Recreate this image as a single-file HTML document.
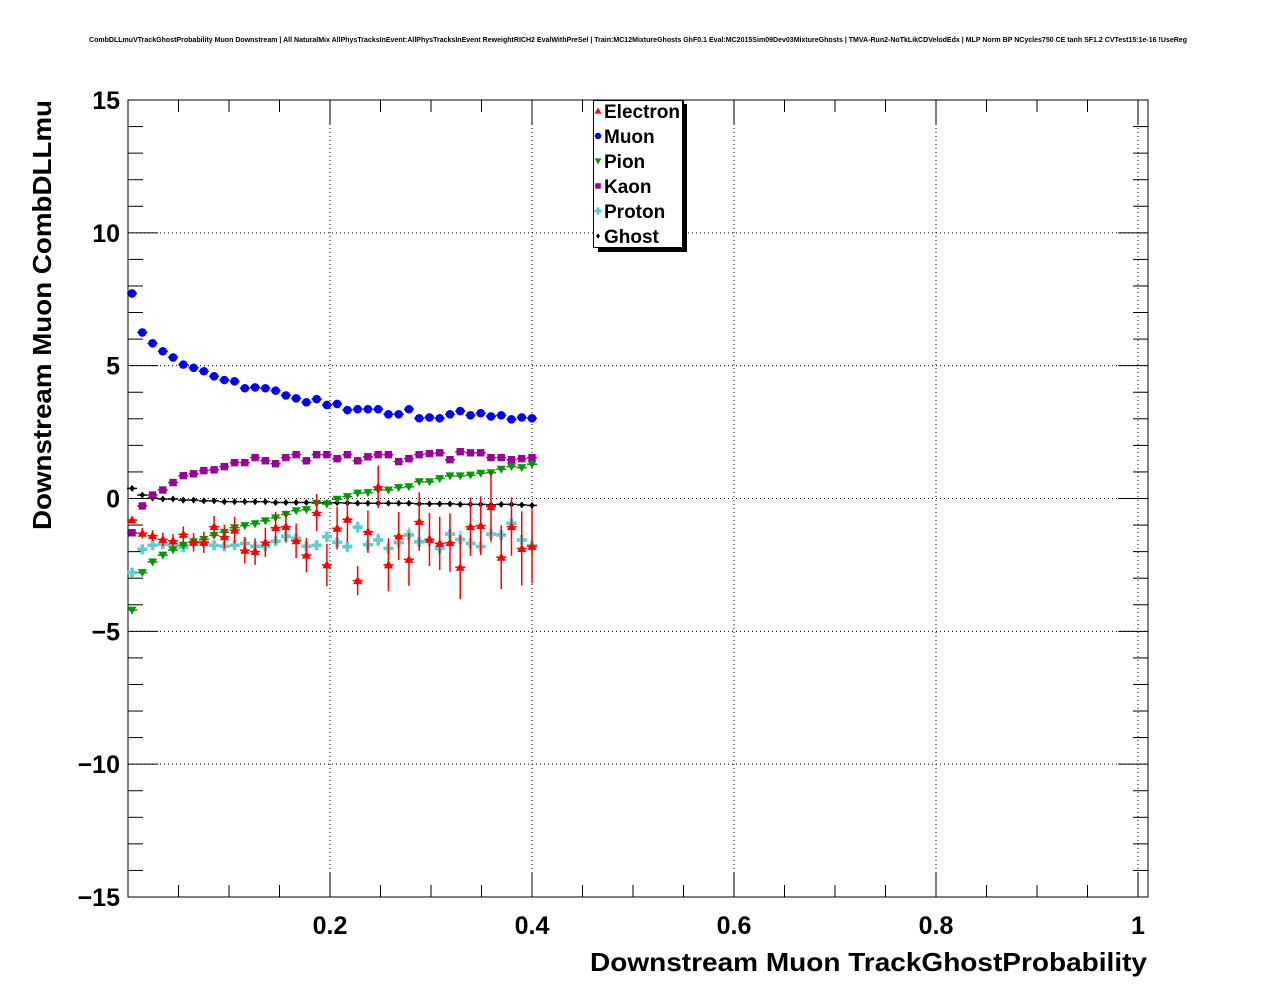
<!DOCTYPE html>
<html><head><meta charset="utf-8"><style>
html,body{margin:0;padding:0;background:#fff}
svg{display:block;font-family:"Liberation Sans",Arial,sans-serif}
</style></head><body>
<svg id="chart" width="1276" height="996" viewBox="0 0 1276 996" xmlns="http://www.w3.org/2000/svg">
<rect width="1276" height="996" fill="#fff"/>
<text x="89" y="42" font-size="7" font-weight="bold" textLength="1098" lengthAdjust="spacingAndGlyphs">CombDLLmuVTrackGhostProbability Muon Downstream | All NaturalMix AllPhysTracksInEvent:AllPhysTracksInEvent ReweightRICH2 EvalWithPreSel | Train:MC12MixtureGhosts GhF0.1 Eval:MC2015Sim09Dev03MixtureGhosts | TMVA-Run2-NoTkLikCDVelodEdx | MLP Norm BP NCycles750 CE tanh SF1.2 CVTest15:1e-16 !UseReg</text>
<g id="grid"></g>
<g id="axes"></g>
<g id="series"></g>
<text x="590" y="971" font-size="26" font-weight="bold" textLength="557" lengthAdjust="spacingAndGlyphs">Downstream Muon TrackGhostProbability</text>
<text transform="translate(51,530) rotate(-90)" x="0" y="0" font-size="26" font-weight="bold" textLength="430" lengthAdjust="spacingAndGlyphs">Downstream Muon CombDLLmu</text>
<g id="legend"></g>
</svg>
<script>
const xTickLabels=["0.2","0.4","0.6","0.8","1"];
const xTickValues=[0.2,0.4,0.6,0.8,1.0];
const yTickValues=[-15,-10,-5,0,5,10,15];
const yTickLabels=["\u221215","\u221210","\u22125","0","5","10","15"];
const binCount=40;
const muon=[7.72,6.25,5.84,5.54,5.31,5.04,4.92,4.79,4.60,4.46,4.41,4.15,4.18,4.15,4.06,3.88,3.77,3.62,3.74,3.52,3.56,3.33,3.36,3.36,3.36,3.17,3.17,3.36,3.02,3.05,3.02,3.17,3.29,3.13,3.21,3.09,3.13,2.98,3.05,3.02];
const kaon=[-1.29,-0.28,0.13,0.32,0.60,0.86,0.93,1.05,1.08,1.20,1.35,1.35,1.54,1.42,1.31,1.54,1.65,1.42,1.65,1.65,1.50,1.65,1.42,1.57,1.65,1.65,1.39,1.50,1.65,1.69,1.72,1.46,1.76,1.72,1.72,1.54,1.54,1.46,1.50,1.54];
const pion=[-4.20,-2.79,-2.39,-2.13,-1.94,-1.76,-1.63,-1.54,-1.39,-1.27,-1.10,-1.02,-0.95,-0.84,-0.73,-0.60,-0.46,-0.42,-0.18,-0.21,-0.03,0.07,0.20,0.22,0.32,0.32,0.41,0.44,0.63,0.63,0.75,0.85,0.85,0.88,0.95,0.97,1.10,1.20,1.16,1.29];
const ghost=[0.38,0.13,0.02,-0.02,-0.02,-0.06,-0.06,-0.09,-0.09,-0.12,-0.12,-0.12,-0.12,-0.12,-0.15,-0.15,-0.15,-0.15,-0.15,-0.16,-0.16,-0.17,-0.18,-0.18,-0.18,-0.18,-0.18,-0.18,-0.2,-0.2,-0.2,-0.2,-0.22,-0.22,-0.22,-0.24,-0.22,-0.22,-0.24,-0.26];
const proton=[-2.79,-1.91,-1.76,-1.72,-1.76,-1.84,-1.65,-1.65,-1.76,-1.80,-1.76,-1.69,-1.80,-1.80,-1.61,-1.42,-1.50,-1.80,-1.76,-1.44,-1.65,-1.81,-1.08,-1.74,-1.56,-1.88,-1.66,-1.37,-1.63,-1.59,-1.88,-1.34,-1.54,-1.69,-1.81,-1.34,-1.37,-0.93,-1.56,-1.78];
const protonErr=[0.05,0.1,0.1,0.1,0.1,0.1,0.1,0.12,0.12,0.12,0.12,0.12,0.14,0.14,0.15,0.15,0.17,0.17,0.18,0.2,0.2,0.22,0.22,0.25,0.25,0.25,0.28,0.28,0.3,0.3,0.3,0.32,0.32,0.35,0.35,0.35,0.38,0.38,0.4,0.4];
const electron=[-0.81,-1.31,-1.40,-1.54,-1.59,-1.35,-1.65,-1.65,-1.06,-1.44,-1.19,-1.95,-2.00,-1.65,-1.10,-1.06,-1.59,-2.13,-0.53,-2.50,-1.12,-0.78,-3.09,-1.25,0.44,-2.50,-1.41,-2.29,-0.87,-1.54,-1.69,-1.66,-2.59,-1.06,-1.02,-0.31,-2.21,-1.06,-1.88,-1.80];
const electronErr=[0.1,0.2,0.2,0.25,0.25,0.3,0.35,0.4,0.4,0.45,0.5,0.5,0.5,0.55,0.6,0.6,0.65,0.65,0.7,0.8,0.8,0.85,0.55,0.8,0.8,1.0,0.9,1.0,1.1,1.0,1.0,1.1,1.2,1.1,1.1,1.3,1.2,1.1,1.4,1.4];

const NS="http://www.w3.org/2000/svg";
const X0=128,X1=1148,Y0=100,Y1=897;
const xMin=0,xMax=(X1-X0)/1010;
const yMin=-15,yMax=15;
function xs(v){return X0+(v-xMin)/(xMax-xMin)*(X1-X0);}
function ys(v){return Y1-(v-yMin)/(yMax-yMin)*(Y1-Y0);}
function mk(tag,attrs,parent){const e=document.createElementNS(NS,tag);for(const k in attrs)e.setAttribute(k,attrs[k]);parent.appendChild(e);return e;}
function binX(i){return 0.004+i*(0.396/(binCount-1));}

const grid=document.getElementById('grid'),axes=document.getElementById('axes'),series=document.getElementById('series'),legend=document.getElementById('legend');
xTickValues.forEach(v=>{const l=mk('line',{x1:xs(v),x2:xs(v),y1:Y0,y2:Y1,stroke:'#000','stroke-width':1,'stroke-dasharray':'1,3'},grid);

});
yTickValues.slice(1,-1).forEach(v=>{const l=mk('line',{x1:X0,x2:X1,y1:ys(v),y2:ys(v),stroke:'#000','stroke-width':1,'stroke-dasharray':'1,3'},grid);

});
const fr=mk('rect',{x:X0,y:Y0,width:X1-X0,height:Y1-Y0,fill:'none',stroke:'#000','stroke-width':1},axes);


for(let v=yMin;v<=yMax;v++){const major=(v%5===0);const len=major?30:15;const y=ys(v);
mk('line',{x1:X0,x2:X0+len,y1:y,y2:y,stroke:'#000'},axes);
mk('line',{x1:X1,x2:X1-len,y1:y,y2:y,stroke:'#000'},axes);}
yTickValues.forEach((v,i)=>{const t=mk('text',{x:X0-8,y:ys(v)+9,'font-size':25,'font-weight':'bold','text-anchor':'end'},axes);t.textContent=yTickLabels[i];

});
for(let k=0;k<=20;k++){const v=k*0.05;const major=(k%4===0);const len=major?24:12;const x=xs(v);
mk('line',{x1:x,x2:x,y1:Y1,y2:Y1-len,stroke:'#000'},axes);
mk('line',{x1:x,x2:x,y1:Y0,y2:Y0+len,stroke:'#000'},axes);}
xTickValues.forEach((v,i)=>{const t=mk('text',{x:xs(v),y:934,'font-size':25,'font-weight':'bold','text-anchor':'middle'},axes);t.textContent=xTickLabels[i];

});

function marker(shape,color,cx,cy,parent,s){
 s=s||1;let e;
 if(shape==='tri')e=mk('polygon',{points:`${cx},${cy-4.5*s} ${cx-4.5*s},${cy+3.5*s} ${cx+4.5*s},${cy+3.5*s}`,fill:color},parent);
 else if(shape==='tridown')e=mk('polygon',{points:`${cx},${cy+4.5*s} ${cx-4.5*s},${cy-3.5*s} ${cx+4.5*s},${cy-3.5*s}`,fill:color},parent);
 else if(shape==='circle')e=mk('circle',{cx:cx,cy:cy,r:4.3*s,fill:color},parent);
 else if(shape==='square')e=mk('rect',{x:cx-3.7*s,y:cy-3.7*s,width:7.4*s,height:7.4*s,fill:color},parent);
 else if(shape==='cross')e=mk('path',{d:`M${cx-1.8*s},${cy-5*s}h${3.6*s}v${3.2*s}h${3.2*s}v${3.6*s}h${-3.2*s}v${3.2*s}h${-3.6*s}v${-3.2*s}h${-3.2*s}v${-3.6*s}h${3.2*s}z`,fill:color},parent);
 else if(shape==='diamond')e=mk('polygon',{points:`${cx},${cy-3.5*s} ${cx+2.8*s},${cy} ${cx},${cy+3.5*s} ${cx-2.8*s},${cy}`,fill:color},parent);
 return e;}

const defs=[
 {name:'ghost',data:ghost,err:null,shape:'diamond',color:'#000'},
 {name:'proton',data:proton,err:protonErr,shape:'cross',color:'#5fcdcd'},
 {name:'kaon',data:kaon,err:null,shape:'square',color:'#990099'},
 {name:'pion',data:pion,err:null,shape:'tridown',color:'#009900'},
 {name:'electron',data:electron,err:electronErr,shape:'tri',color:'#ff0000'},
 {name:'muon',data:muon,err:null,shape:'circle',color:'#0000ff'}];
defs.forEach(d=>{
 const g=mk('g',{},series);
 
 
 d.data.forEach((v,i)=>{
  const cx=xs(binX(i)),cy=ys(v);
  mk('line',{x1:cx-5,x2:cx+5,y1:cy,y2:cy,stroke:d.color,'stroke-width':1.5},g);
  if(d.err){mk('line',{x1:cx,x2:cx,y1:ys(v+d.err[i]),y2:ys(v-d.err[i]),stroke:d.color,'stroke-width':1.5},g);}
  const m=marker(d.shape,d.color,cx,cy,g);
  
  
 });
});
const legendNames=["Electron","Muon","Pion","Kaon","Proton","Ghost"];
const legendShapes=['tri','circle','tridown','square','cross','diamond'];
const legendColors=['#ff0000','#0000ff','#009900','#990099','#5fcdcd','#000'];
mk('rect',{x:598,y:104,width:89,height:148,fill:'#000'},legend);
const lb=mk('rect',{x:593.5,y:100.5,width:89,height:147,fill:'#fff',stroke:'#000'},legend);


legendNames.forEach((n,i)=>{
 const y=111+i*25;
 const g=mk('g',{},legend);
 
 
 marker(legendShapes[i],legendColors[i],598,y,g,0.75);
 const t=mk('text',{x:604,y:y+7,'font-size':19,'font-weight':'bold'},g);t.textContent=n;
});
</script>
</body></html>
